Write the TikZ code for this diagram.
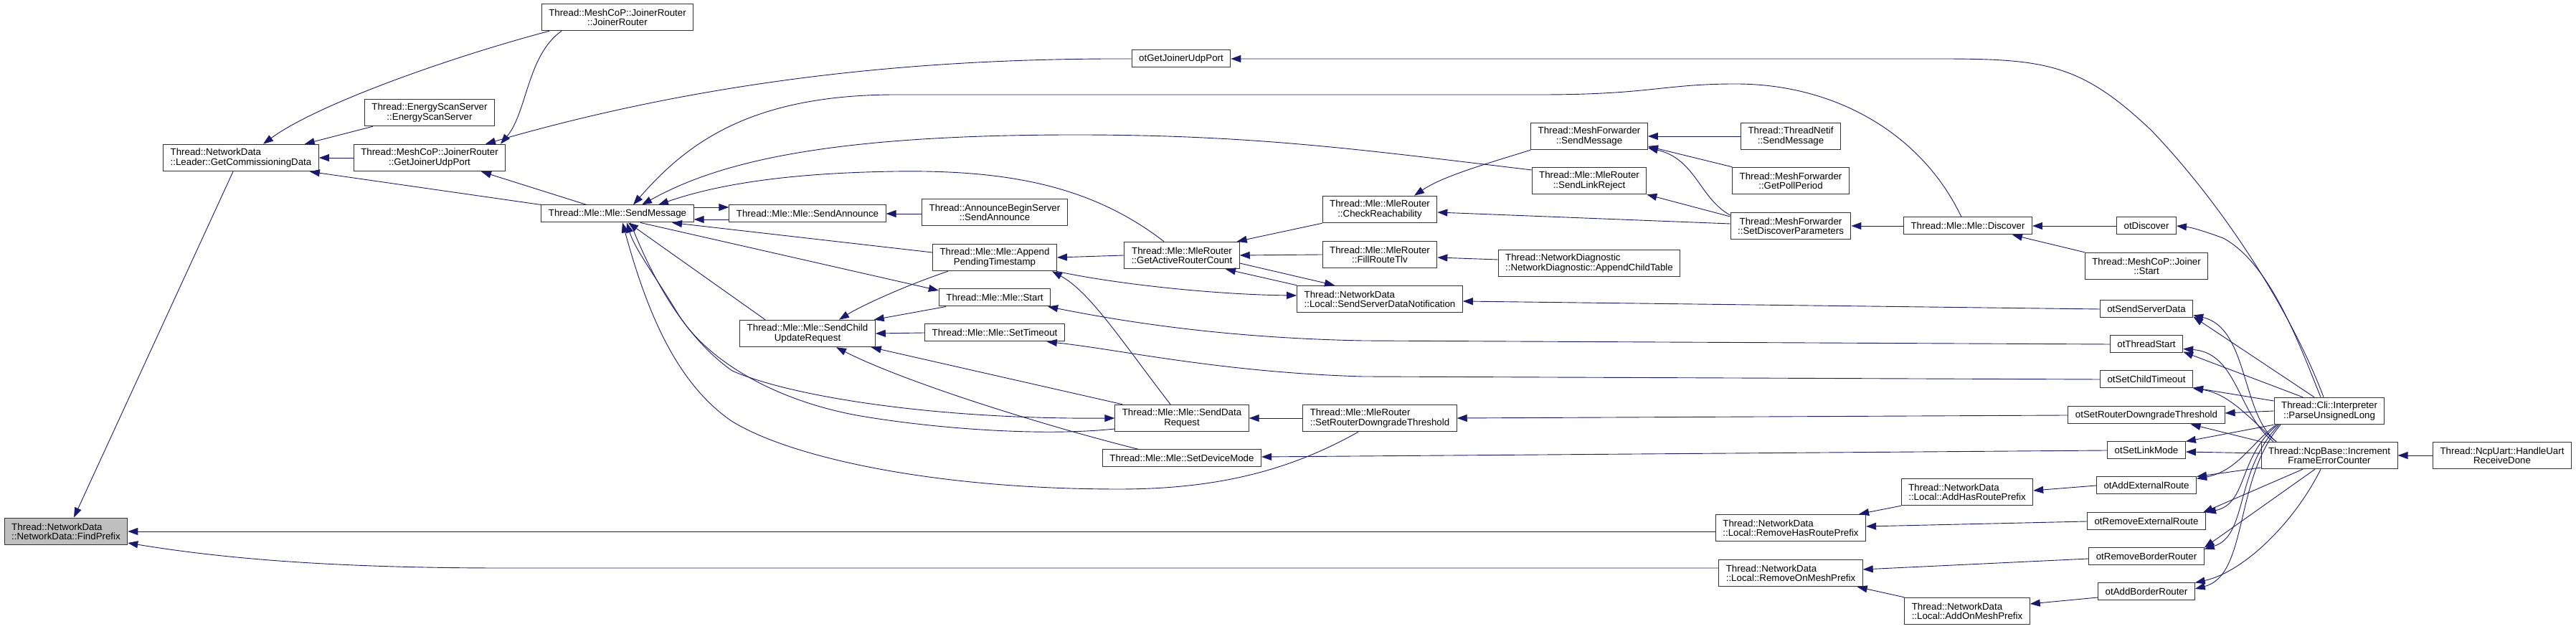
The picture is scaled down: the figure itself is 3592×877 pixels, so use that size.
\documentclass[tikz,border=0pt]{standalone}
\usepackage{fontspec}
\setmainfont{Liberation Sans}
\usepackage{tikz}
\usetikzlibrary{arrows.meta}
\definecolor{edgeblue}{RGB}{25,25,112}
\definecolor{rootgrey}{RGB}{191,191,191}

\begin{document}
\begin{tikzpicture}[x=1pt, y=1pt, font=\fontsize{13.3}{13.3}\selectfont,
    fn/.style={draw=black!80, line width=1pt, fill=white, inner xsep=10pt, inner ysep=3pt,
               minimum height=24pt, align=center},
    dbl/.style={minimum height=37.5pt},
    root/.style={fn, dbl, fill=rootgrey},
    call/.style={draw=edgeblue, line width=0.9pt, -{Triangle[length=14pt,width=10pt]}}]
    \useasboundingbox (0,0) rectangle (3592,877);

    \node[root, align=left] (find) at (92,136) {Thread::NetworkData\\::NetworkData::FindPrefix};
    \node[fn, dbl, align=left] (gcd) at (336,657) {Thread::NetworkData\\::Leader::GetCommissioningData};
    \node[fn, dbl] (jrjr) at (861,853) {Thread::MeshCoP::JoinerRouter\\::JoinerRouter};
    \node[fn, dbl] (ess) at (599,720) {Thread::EnergyScanServer\\::EnergyScanServer};
    \node[fn, dbl] (gjup) at (599,657) {Thread::MeshCoP::JoinerRouter\\::GetJoinerUdpPort};
    \node[fn] (msend) at (861,579) {Thread::Mle::Mle::SendMessage};
    \node[fn] (sann) at (1126,579) {Thread::Mle::Mle::SendAnnounce};
    \node[fn, dbl] (abs) at (1387,581) {Thread::AnnounceBeginServer\\::SendAnnounce};
    \node[fn] (otgjup) at (1647,795) {otGetJoinerUdpPort};
    \node[fn, dbl] (apt) at (1387,518) {Thread::Mle::Mle::Append\\PendingTimestamp};
    \node[fn, dbl] (garc) at (1648,521) {Thread::Mle::MleRouter\\::GetActiveRouterCount};
    \node[fn] (start) at (1387,462) {Thread::Mle::Mle::Start};
    \node[fn, dbl] (scur) at (1126,412) {Thread::Mle::Mle::SendChild\\UpdateRequest};
    \node[fn] (stmo) at (1387,413) {Thread::Mle::Mle::SetTimeout};
    \node[fn, dbl] (sdr) at (1648,294) {Thread::Mle::Mle::SendData\\Request};
    \node[fn] (sdm) at (1648,238) {Thread::Mle::Mle::SetDeviceMode};
    \node[fn, dbl, align=left] (srdt) at (1924,294) {Thread::Mle::MleRouter\\::SetRouterDowngradeThreshold};
    \node[fn, dbl] (chkr) at (1924,585) {Thread::Mle::MleRouter\\::CheckReachability};
    \node[fn, dbl] (frt) at (1924,522) {Thread::Mle::MleRouter\\::FillRouteTlv};
    \node[fn, dbl, align=left] (ssdn) at (1924,460) {Thread::NetworkData\\::Local::SendServerDataNotification};
    \node[fn, dbl] (mfsend) at (2216,687) {Thread::MeshForwarder\\::SendMessage};
    \node[fn, dbl] (slr) at (2216,625) {Thread::Mle::MleRouter\\::SendLinkReject};
    \node[fn, dbl, align=left] (act) at (2216,510) {Thread::NetworkDiagnostic\\::NetworkDiagnostic::AppendChildTable};
    \node[fn, dbl] (tnsend) at (2497,687) {Thread::ThreadNetif\\::SendMessage};
    \node[fn, dbl] (gpp) at (2497,625) {Thread::MeshForwarder\\::GetPollPeriod};
    \node[fn, dbl] (sdp) at (2497,562) {Thread::MeshForwarder\\::SetDiscoverParameters};
    \node[fn] (disc) at (2744,562) {Thread::Mle::Mle::Discover};
    \node[fn] (otdisc) at (2993,562) {otDiscover};
    \node[fn, dbl] (jstart) at (2993,506) {Thread::MeshCoP::Joiner\\::Start};
    \node[fn] (otssd) at (2993,446) {otSendServerData};
    \node[fn] (otts) at (2993,397) {otThreadStart};
    \node[fn] (otsct) at (2993,348) {otSetChildTimeout};
    \node[fn] (otsrdt) at (2993,298) {otSetRouterDowngradeThreshold};
    \node[fn] (otslm) at (2993,249) {otSetLinkMode};
    \node[fn] (otaer) at (2993,200) {otAddExternalRoute};
    \node[fn] (otrer) at (2993,150) {otRemoveExternalRoute};
    \node[fn] (otrbr) at (2993,101) {otRemoveBorderRouter};
    \node[fn] (otabr) at (2993,52) {otAddBorderRouter};
    \node[fn, dbl, align=left] (ahrp) at (2743,191) {Thread::NetworkData\\::Local::AddHasRoutePrefix};
    \node[fn, dbl, align=left] (rhrp) at (2497,141) {Thread::NetworkData\\::Local::RemoveHasRoutePrefix};
    \node[fn, dbl, align=left] (romp) at (2497,78) {Thread::NetworkData\\::Local::RemoveOnMeshPrefix};
    \node[fn, dbl, align=left] (aomp) at (2743,25) {Thread::NetworkData\\::Local::AddOnMeshPrefix};
    \node[fn, dbl] (psul) at (3248,304) {Thread::Cli::Interpreter\\::ParseUnsignedLong};
    \node[fn, dbl] (ifec) at (3248,242) {Thread::NcpBase::Increment\\FrameErrorCounter};
    \node[fn, dbl] (hurd) at (3489,242) {Thread::NcpUart::HandleUart\\ReceiveDone};

    \draw[call] ([xshift=-11pt]gcd.south) -- ([xshift=11pt]find.north);
    \draw[call] ([yshift=-5pt]rhrp.west) -- (find.east);
    \draw[call] ([yshift=7pt]romp.west) -- (700,85) .. controls (450,85) and (300,100) .. ([yshift=-16pt]find.east);
    \draw[call] ([xshift=-95pt]jrjr.south) .. controls (620,795) and (440,730) .. ([xshift=31pt]gcd.north);
    \draw[call] ([xshift=12pt]ess.south west) -- ([xshift=-20pt]gcd.north east);
    \draw[call] (gjup.west) -- (gcd.east);
    \draw[call] (msend.north west) -- ([xshift=-13pt]gcd.south east);
    \draw[call] ([xshift=-78pt]jrjr.south) .. controls (735,800) and (735,720) .. ([xshift=99pt]gjup.north);
    \draw[call] (otgjup.west) .. controls (1300,796) and (1000,770) .. ([xshift=78pt]gjup.north);
    \draw[call] ([xshift=-43pt]msend.north) -- ([xshift=72pt]gjup.south);
    \draw[call] ([xshift=-9pt]disc.north) .. controls (2680,690) and (2560,760) .. (2420,760)
      .. controls (2320,760) and (2300,745) .. (2150,745) -- (1250,745)
      .. controls (1050,745) and (960,680) .. ([xshift=22pt]msend.north);
    \draw[call] ([yshift=15pt]slr.west) .. controls (1900,668) and (1750,689) .. (1500,689)
      .. controls (1150,689) and (1000,650) .. ([xshift=34pt]msend.north);
    \draw[call] ([xshift=-25pt]garc.north) .. controls (1520,620) and (1400,640) .. (1250,638)
      .. controls (1100,636) and (1000,620) .. ([xshift=57pt]msend.north);
    \draw[call] ([yshift=9pt]msend.east) -- ([yshift=9pt]sann.west);
    \draw[call] ([yshift=-8pt]sann.west) -- ([yshift=-8pt]msend.east);
    \draw[call] ([yshift=-2pt]abs.west) -- (sann.east);
    \draw[call] ([yshift=7pt]apt.west) -- ([xshift=76pt]msend.south);
    \draw[call] ([xshift=32pt]msend.south) -- ([yshift=10pt]start.west);
    \draw[call] ([xshift=-59pt]scur.north) -- ([xshift=15pt]msend.south);
    \draw[call] ([xshift=-30pt]srdt.south) .. controls (1800,222) and (1700,195) .. (1560,195)
      .. controls (1300,195) and (1100,240) .. (1020,290)
      .. controls (940,345) and (900,450) .. ([xshift=7pt]msend.south);
    \draw[call] ([yshift=-15pt]sdr.west) .. controls (1450,268) and (1300,280) .. (1200,297)
      .. controls (1080,318) and (985,375) .. (945,440)
      .. controls (915,490) and (885,530) .. ([xshift=13pt]msend.south);
    \draw[call] ([xshift=18pt]msend.south) .. controls (905,500) and (950,410) .. (1021,360)
      .. controls (1100,325) and (1300,292) .. (sdr.west);
    \draw[call] ([xshift=-65pt]apt.south) .. controls (1260,478) and (1200,450) .. ([xshift=44pt]scur.north);
    \draw[call] ([xshift=-68pt]start.south) -- ([xshift=-2pt]scur.north east);
    \draw[call] (stmo.west) -- (scur.east);
    \draw[call] ([xshift=-83pt]sdr.north) -- ([xshift=-6pt]scur.south east);
    \draw[call] ([xshift=-60pt]sdm.north) .. controls (1450,285) and (1260,345) .. ([xshift=40pt]scur.south);
    \draw[call] ([xshift=-16pt]sdr.north) .. controls (1565,400) and (1520,470) .. ([xshift=80pt]apt.south);
    \draw[call] (garc.west) -- (apt.east);
    \draw[call] ([xshift=86pt]apt.south) .. controls (1560,480) and (1700,466) .. ([yshift=5pt]ssdn.west);
    \draw[call] ([yshift=-11pt]garc.east) -- ([xshift=-63pt]ssdn.north);
    \draw[call] (ssdn.north west) -- ([xshift=61pt]garc.south);
    \draw[call] (chkr.south west) -- ([xshift=-4pt]garc.north east);
    \draw[call] (frt.west) -- (garc.east);
    \draw[call] (mfsend.south west) .. controls (2060,645) and (2010,630) .. ([xshift=48pt]chkr.north);
    \draw[call] ([yshift=3pt]sdp.west) -- ([yshift=-4pt]chkr.east);
    \draw[call] (tnsend.west) -- (mfsend.east);
    \draw[call] (gpp.north west) -- ([yshift=-14pt]mfsend.east);
    \draw[call] ([yshift=15pt]sdp.west) .. controls (2370,600) and (2365,655) .. ([yshift=-16pt]mfsend.east);
    \draw[call] ([yshift=13pt]sdp.west) -- (slr.south east);
    \draw[call] ([yshift=5pt]act.west) -- ([yshift=-4pt]frt.east);
    \draw[call] (disc.west) -- (sdp.east);
    \draw[call] (otdisc.west) -- (disc.east);
    \draw[call] (jstart.north west) -- ([xshift=62pt]disc.south);
    \draw[call] ([xshift=-8pt]psul.north) .. controls (3200,430) and (3110,580) .. (3000,695)
      .. controls (2900,790) and (2850,795) .. (2700,795) -- (otgjup.east);
    \draw[call] ([xshift=-12pt]psul.north) .. controls (3205,400) and (3165,510) .. (3100,545)
      .. controls (3070,556) and (3055,560) .. (otdisc.east);
    \draw[call] ([xshift=-21pt]psul.north) -- ([yshift=2pt]otssd.south east);
    \draw[call] ([xshift=-74pt]ifec.north) .. controls (3125,300) and (3135,420) .. ([yshift=4pt]otssd.south east);
    \draw[call] ([xshift=-37pt]psul.north) -- ([yshift=2pt]otts.south east);
    \draw[call] ([xshift=-78pt]ifec.north) .. controls (3120,300) and (3120,385) .. ([yshift=6pt]otts.south east);
    \draw[call] ([yshift=14pt]psul.west) -- ([yshift=1pt]otsct.south east);
    \draw[call] ([xshift=-74pt]ifec.north) .. controls (3140,290) and (3110,328) .. (otsct.south east);
    \draw[call] (psul.west) -- ([yshift=3pt]otsrdt.east);
    \draw[call] (ifec.north west) -- ([xshift=-48pt]otsrdt.south east);
    \draw[call] (psul.south west) -- (otslm.north east);
    \draw[call] ([yshift=3pt]ifec.west) -- ([yshift=-2pt]otslm.east);
    \draw[call] ([yshift=-17pt]ifec.west) -- (otaer.north east);
    \draw[call] ([xshift=-74pt]psul.south) .. controls (3140,260) and (3120,220) .. ([yshift=-3pt]otaer.north east);
    \draw[call] ([xshift=-37pt]ifec.south) -- ([xshift=-4pt]otrer.north east);
    \draw[call] ([xshift=-72pt]psul.south) .. controls (3120,240) and (3135,175) .. (otrer.north east);
    \draw[call] ([xshift=-20pt]ifec.south) -- (otrbr.north east);
    \draw[call] ([xshift=-70pt]psul.south) .. controls (3115,220) and (3135,130) .. ([yshift=-2pt]otrbr.north east);
    \draw[call] ([xshift=-12pt]ifec.south) .. controls (3200,150) and (3130,80) .. (otabr.north east);
    \draw[call] ([xshift=-68pt]psul.south) .. controls (3115,210) and (3135,75) .. ([yshift=4pt]otabr.east);
    \draw[call] (hurd.west) -- (ifec.east);
    \draw[call] (otaer.west) -- ([yshift=2pt]ahrp.east);
    \draw[call] (otrer.west) -- ([yshift=2pt]rhrp.east);
    \draw[call] (ahrp.south west) -- ([xshift=-10pt]rhrp.north east);
    \draw[call] ([yshift=-3pt]otrbr.west) -- ([yshift=5pt]romp.east);
    \draw[call] (aomp.north west) -- ([xshift=-8pt]romp.south east);
    \draw[call] ([yshift=-8pt]otabr.west) -- ([yshift=10pt]aomp.east);
    \draw[call] (otssd.west) -- ([yshift=-3pt]ssdn.east);
    \draw[call] (otts.west) -- (1900,402) .. controls (1700,406) and (1560,430) .. ([xshift=-4pt]start.south east);
    \draw[call] (otsct.west) -- (1900,352) .. controls (1700,358) and (1560,390) .. ([xshift=-25pt]stmo.south east);
    \draw[call] (otsrdt.west) -- (srdt.east);
    \draw[call] (otslm.west) -- ([yshift=2pt]sdm.east);
    \draw[call] (srdt.west) -- (sdr.east);
  \end{tikzpicture}
\end{document}
